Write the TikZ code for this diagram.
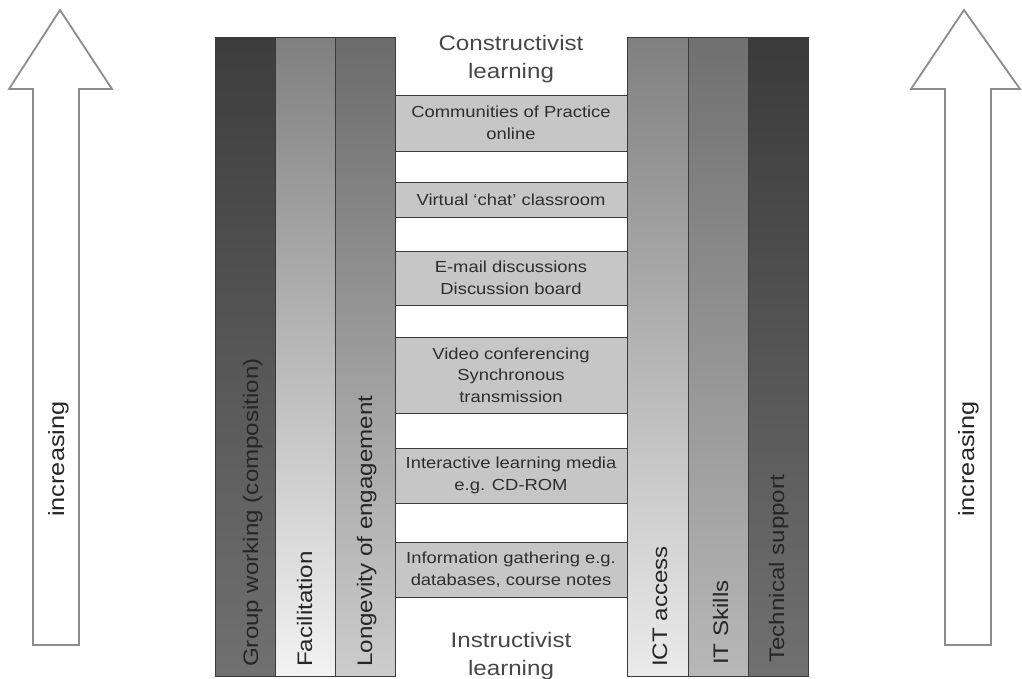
\documentclass[tikz,border=0pt]{standalone}
\usepackage{fontspec}
\setmainfont{Liberation Sans}[FakeStretch=1.15]
\usepackage{xcolor}
\definecolor{ladder-edge}{HTML}{3A3A3A}
\definecolor{ladder-rung}{HTML}{C6C6C6}
\definecolor{ladder-text}{HTML}{2E2E2E}
\definecolor{arrow-edge}{HTML}{8C8C8C}
\usepackage{tikz}

\tikzset{
    rung/.style={draw=ladder-edge, fill=ladder-rung, line width=0.9pt, minimum width=232pt, inner sep=0pt, align=center, text=ladder-text, font=\fontsize{16}{21.5}\selectfont},
    pillar/.style={draw=ladder-edge, line width=0.9pt},
    pillar label/.style={rotate=90, anchor=base west, inner sep=0pt, text=black!85, font=\fontsize{21}{25}\selectfont},
    stage/.style={align=center, inner sep=0pt, text=black!72, font=\fontsize{21}{28}\selectfont},
    rise/.style={draw=arrow-edge, fill=white, line width=1.8pt},
    rise label/.style={rotate=90, anchor=base west, inner sep=0pt, text=black!85, font=\fontsize{22}{26}\selectfont},
}

\begin{document}
\begin{tikzpicture}[x=1pt, y=-1pt]

    \useasboundingbox (0,0) rectangle (1022,678);

    % Arrows
    \draw[rise] (33,645) -- (33,89) -- (9,89) -- (60,10) -- (112,89) -- (79,89) -- (79,645) -- cycle;
    \draw[rise] (945,645) -- (945,89) -- (911,89) -- (964,10) -- (1020,89) -- (991,89) -- (991,645) -- cycle;
    \node[rise label] (riseleft) at (64,517) {increasing};
    \node[rise label] (riseright) at (974,517) {increasing};

    % Pillars, learner side
    \shade[pillar, top color=black!76, bottom color=black!56] (215,37) rectangle (275,676);
    \shade[pillar, top color=black!50, bottom color=black!5] (275,37) rectangle (335,676);
    \shade[pillar, top color=black!58, bottom color=black!20] (335,37) rectangle (395,676);

    % Pillars, technology side
    \shade[pillar, top color=black!50, bottom color=black!8] (627,37) rectangle (688,676);
    \shade[pillar, top color=black!56, bottom color=black!28] (688,37) rectangle (748,676);
    \shade[pillar, top color=black!77, bottom color=black!56] (748,37) rectangle (808,676);

    \node[pillar label] (group) at (258,667) {Group working (composition)};
    \node[pillar label] (facil) at (312,667) {Facilitation};
    \node[pillar label] (longevity) at (372,667) {Longevity of engagement};
    \node[pillar label] (ict) at (667,667) {ICT access};
    \node[pillar label] (skills) at (728,665) {IT Skills};
    \node[pillar label] (support) at (784,663) {Technical support};

    % Rungs
    \node[rung, minimum height=56pt] (cop) at (511,123) {Communities of Practice\\online};
    \node[rung, minimum height=35pt] (chat) at (511,199.5) {Virtual `chat' classroom};
    \node[rung, minimum height=54pt] (email) at (511,278) {E-mail discussions\\Discussion board};
    \node[rung, minimum height=76pt] (video) at (511,375) {Video conferencing\\Synchronous\\transmission};
    \node[rung, minimum height=55pt] (media) at (511,475.5) {Interactive learning media\\e.g. CD-ROM};
    \node[rung, minimum height=55pt] (info) at (511,569.5) {Information gathering e.g.\\databases, course notes};

    % Ends of the ladder
    \node[stage] (top) at (511,59) {Constructivist\\learning};
    \node[stage] (bottom) at (511,656) {Instructivist\\learning};

\end{tikzpicture}
\end{document}
